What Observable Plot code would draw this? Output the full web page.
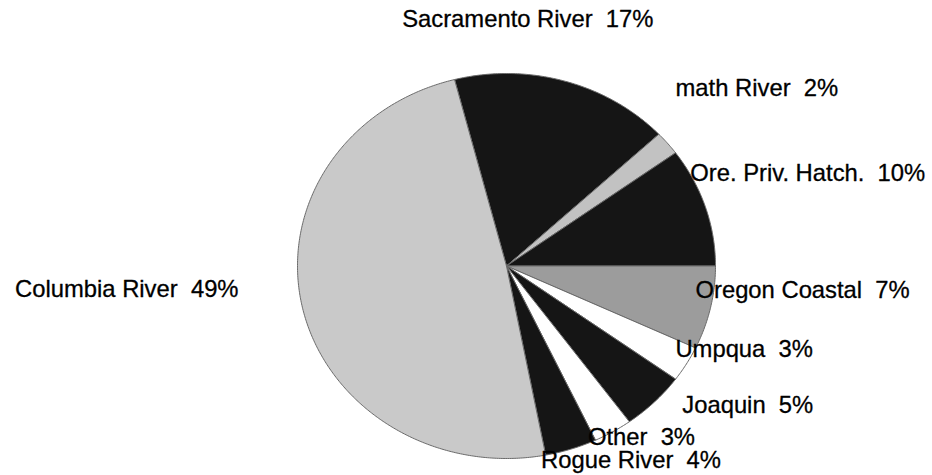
<!DOCTYPE html>
<html><head><meta charset="utf-8">
<script src="https://cdn.jsdelivr.net/npm/d3@7"></script>
<script src="https://cdn.jsdelivr.net/npm/@observablehq/plot@0.6"></script>
<style>
html,body{margin:0;padding:0;background:#fff;}
svg text{white-space:pre;}
</style></head><body><div id="chart"></div>
<script>
// Slices, clockwise from the top
const names = ["Sacramento River","Klamath River","Ore. Priv. Hatch.","Oregon Coastal","Umpqua","San Joaquin","Other","Rogue River","Columbia River"];
const percents = [17, 2, 10, 7, 3, 5, 3, 4, 49];
const labels = ["Sacramento River  17%","math River  2%","Ore. Priv. Hatch.  10%","Oregon Coastal  7%","Umpqua  3%","Joaquin  5%","Other  3%","Rogue River  4%","Columbia River  49%"];

// styling
const sliceColors = ["#151515","#c2c2c2","#151515","#9c9c9c","#ffffff","#151515","#ffffff","#151515","#c9c9c9"];
const labelAnchor = ["middle","start","start","start","start","start","start","start","end"];
const labelDx = [-37, 8, -15, -15, -11, 28, -25, -30, -64];
const labelDy = [-62, -55, -33, -18, -15, 3, 6, 11, -19];
const startDeg = -14.4;

// build slice polygons in unit pie coordinates
const total = d3.sum(percents);
const slices = [];
const mids = [];
let cum = 0;
percents.forEach((p, i) => {
  const a0 = startDeg + cum / total * 360;
  const a1 = startDeg + (cum + p) / total * 360;
  cum += p;
  const n = Math.max(2, Math.ceil((a1 - a0) / 0.5));
  slices.push({name: names[i], x: 0, y: 0});
  for (let j = 0; j <= n; j++) {
    const a = (a0 + (a1 - a0) * j / n) * Math.PI / 180;
    slices.push({name: names[i], x: Math.sin(a), y: Math.cos(a)});
  }
  slices.push({name: names[i], x: 0, y: 0});
  const am = (a0 + a1) / 2 * Math.PI / 180;
  mids.push({name: names[i], label: labels[i], x: Math.sin(am), y: Math.cos(am)});
});

const marks = [
  Plot.line(slices, {x: "x", y: "y", z: "name", fill: "name", stroke: "#6a6a6a", strokeWidth: 1, strokeLinejoin: "round"})
];
mids.forEach((m, i) => {
  marks.push(Plot.text([m], {x: "x", y: "y", text: "label", textAnchor: labelAnchor[i], dx: labelDx[i], dy: labelDy[i],
    fontSize: 23.8, fill: "#000", stroke: "#000", strokeWidth: 0.3,
    fontFamily: "'Liberation Sans', Arial, Helvetica, sans-serif"}));
});

const chart = Plot.plot({
  width: 932, height: 475,
  margin: 0,
  x: {domain: [-1, 1], range: [297, 715], axis: null},
  y: {domain: [-1, 1], range: [458, 73], axis: null},
  color: {domain: names, range: sliceColors},
  style: {background: "#fff", overflow: "visible"},
  marks
});
document.getElementById("chart").appendChild(chart);
</script>
</body></html>
